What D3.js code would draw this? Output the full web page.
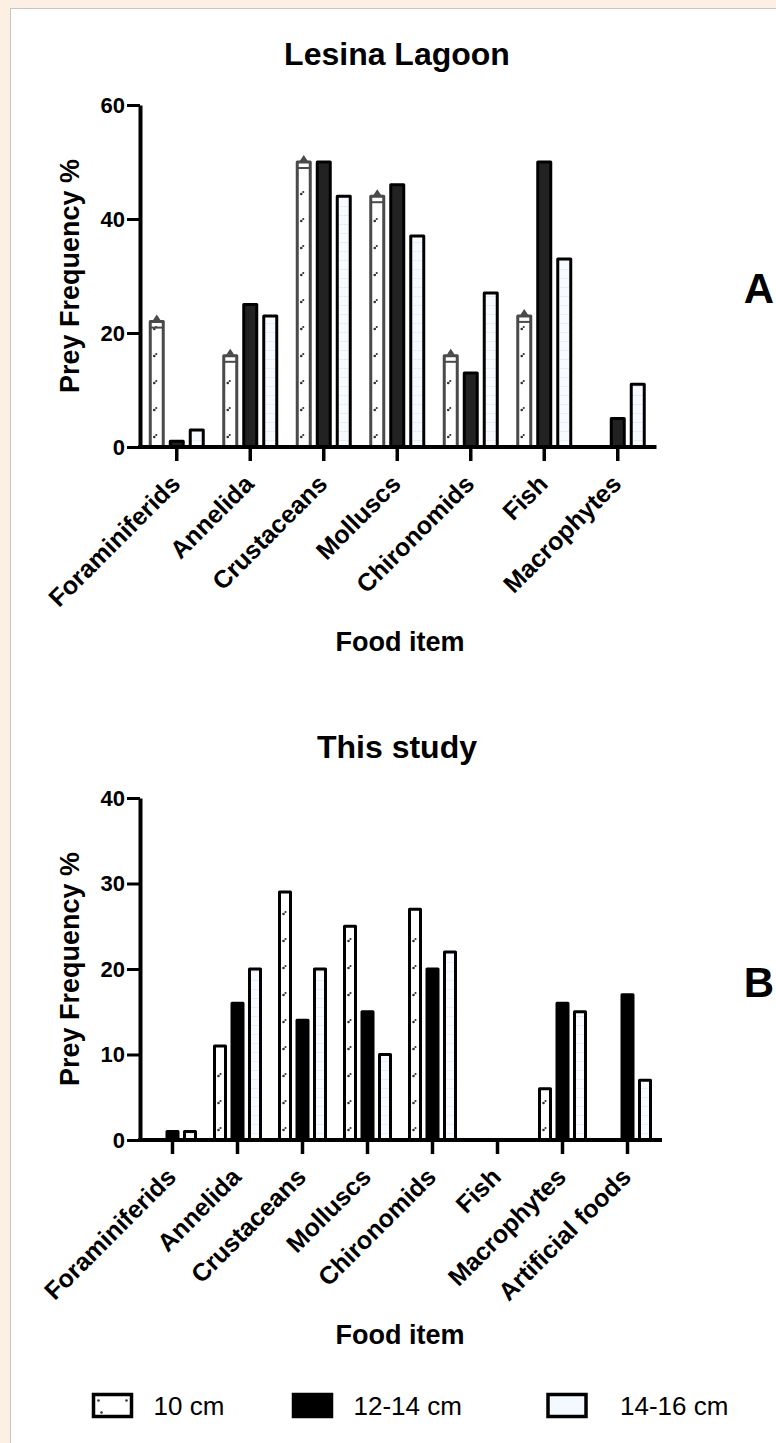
<!DOCTYPE html>
<html>
<head>
<meta charset="utf-8">
<script src="https://cdn.jsdelivr.net/npm/d3@7"></script>
<style>
  body { margin: 0; background: #fcefe3; }
  svg { display: block; font-family: "Liberation Sans", Arial, sans-serif; }
</style>
</head>
<body>
<svg width="776" height="1443"></svg>
<script>
var seriesNames = ["10 cm", "12-14 cm", "14-16 cm"];

var lagoonCats = ["Foraminiferids", "Annelida", "Crustaceans", "Molluscs", "Chironomids", "Fish", "Macrophytes"];
var lagoon10 = [22, 16, 50, 44, 16, 23, 0];
var lagoon12 = [1, 25, 50, 46, 13, 50, 5];
var lagoon14 = [3, 23, 44, 37, 27, 33, 11];
var lagoonTicks = [0, 20, 40, 60];

var studyCats = ["Foraminiferids", "Annelida", "Crustaceans", "Molluscs", "Chironomids", "Fish", "Macrophytes", "Artificial foods"];
var study10 = [0, 11, 29, 25, 27, 0, 6, 0];
var study12 = [1, 16, 14, 15, 20, 0, 16, 17];
var study14 = [1, 20, 20, 10, 22, 0, 15, 7];
var studyTicks = [0, 10, 20, 30, 40];

var svg = d3.select("svg");

// white page panel
svg.append("rect")
    .attr("x", 10.5).attr("y", 8.5)
    .attr("width", 800).attr("height", 1500)
    .attr("fill", "#fff").attr("stroke", "#c8c4c0");

var defs = svg.append("defs");
var lines = defs.append("pattern")
    .attr("id", "light")
    .attr("patternUnits", "userSpaceOnUse")
    .attr("width", 6).attr("height", 9);
lines.append("rect").attr("width", 6).attr("height", 9).attr("fill", "#f7faff");
lines.append("rect").attr("y", 8).attr("width", 6).attr("height", 1).attr("fill", "#e8eef8");

function panel(o) {
  var g = svg.append("g");

  var x = d3.scaleBand().domain(o.cats).range([o.left, o.right]).padding(0);
  var x1 = d3.scaleBand().domain(seriesNames).range([-o.groupW / 2, o.groupW / 2]).paddingInner(0.2);
  var y = d3.scaleLinear().domain([0, o.yMax]).range([o.bottom, o.top]);

  var rows = [];
  o.cats.forEach(function(c, i) {
    o.series.forEach(function(s, j) {
      rows.push({cat: c, name: seriesNames[j], value: s[i], k: j});
    });
  });
  rows = rows.filter(function(d) { return d.value > 0; });

  var bw = x1.bandwidth() - 3;
  function bx(d) { return x(d.cat) + x.bandwidth() / 2 + x1(d.name) + 1.5; }

  var bars = g.selectAll(".bar").data(rows).enter();

  bars.append("rect")
      .attr("class", "bar")
      .attr("x", bx)
      .attr("y", function(d) { return y(d.value); })
      .attr("width", bw)
      .attr("height", function(d) { return o.bottom - y(d.value); })
      .attr("fill", function(d) { return d.k == 0 ? "#fff" : d.k == 1 ? o.darkFill : "url(#light)"; })
      .attr("stroke", function(d) { return d.k == 0 ? o.firstStroke : "#000"; })
      .attr("stroke-width", 3)
      .attr("stroke-linejoin", "round");

  // dotted fill of the 10 cm bars
  rows.filter(function(d) { return d.k == 0; }).forEach(function(d) {
    var top = y(d.value);
    d3.range(o.bottom - 10, top + 6, -o.dotGap).forEach(function(yy) {
      g.append("circle").attr("cx", bx(d) + 4).attr("cy", yy).attr("r", 1.3).attr("fill", "#333");
      g.append("circle").attr("cx", bx(d) + 6).attr("cy", yy - 2).attr("r", 1.1).attr("fill", "#333");
    });
    if (o.caps) {
      var cx = bx(d) + bw / 2;
      g.append("path")
          .attr("d", "M" + (cx - 4) + "," + (top - 1) + "L" + cx + "," + (top - 7) + "L" + (cx + 4) + "," + (top - 1) + "Z")
          .attr("fill", o.firstStroke);
      g.append("line")
          .attr("x1", bx(d)).attr("x2", bx(d) + bw)
          .attr("y1", top + 6).attr("y2", top + 6)
          .attr("stroke", o.firstStroke).attr("stroke-width", 2);
    }
  });

  // y axis
  var ya = g.append("g")
      .attr("transform", "translate(" + o.left + ",0)")
      .call(d3.axisLeft(y).tickValues(o.ticks).tickSize(13).tickSizeOuter(0).tickPadding(2));
  ya.select(".domain").attr("stroke-width", 4);
  ya.selectAll(".tick line").attr("stroke-width", 3);
  ya.selectAll(".tick text")
      .attr("font-size", 22).attr("font-weight", "bold").attr("fill", "#000")
      .attr("font-family", "Liberation Sans, Arial, sans-serif");

  // x axis
  var xa = g.append("g")
      .attr("transform", "translate(0," + o.bottom + ")")
      .call(d3.axisBottom(x).tickSize(14).tickSizeOuter(0));
  xa.select(".domain").attr("stroke-width", 4).attr("d", "M" + (o.left - 2) + ",0H" + (o.right + 2));
  xa.selectAll(".tick line").attr("stroke-width", 3.5);
  xa.selectAll(".tick text")
      .attr("font-size", 25).attr("font-weight", "bold").attr("fill", "#000")
      .attr("font-family", "Liberation Sans, Arial, sans-serif")
      .attr("text-anchor", "end")
      .attr("dy", null)
      .attr("transform", "translate(5,38.5) rotate(-45)")
      .attr("y", 0).attr("x", 0);

  g.append("text")
      .attr("x", 397).attr("y", o.titleY)
      .attr("text-anchor", "middle")
      .attr("font-size", 32).attr("font-weight", "bold")
      .text(o.title);

  g.append("text")
      .attr("transform", "translate(" + (o.left - 61) + "," + ((o.top + o.bottom) / 2) + ") rotate(-90)")
      .attr("text-anchor", "middle")
      .attr("font-size", 27).attr("font-weight", "bold")
      .text("Prey Frequency %");

  g.append("text")
      .attr("x", 400).attr("y", o.bottom + 204)
      .attr("text-anchor", "middle")
      .attr("font-size", 27).attr("font-weight", "bold")
      .text("Food item");

  g.append("text")
      .attr("x", 759).attr("y", o.letterY)
      .attr("text-anchor", "middle")
      .attr("font-size", 42).attr("font-weight", "bold")
      .text(o.letter);
}

panel({
  cats: lagoonCats, series: [lagoon10, lagoon12, lagoon14], yMax: 60, ticks: lagoonTicks,
  left: 140, right: 654.5, top: 105, bottom: 447, groupW: 56,
  darkFill: "#222", firstStroke: "#4a4a4a", caps: true, dotGap: 27,
  title: "Lesina Lagoon", titleY: 65, letter: "A", letterY: 303
});

panel({
  cats: studyCats, series: [study10, study12, study14], yMax: 40, ticks: studyTicks,
  left: 140, right: 660, top: 798, bottom: 1140, groupW: 49,
  darkFill: "#000", firstStroke: "#000", caps: false, dotGap: 27,
  title: "This study", titleY: 758, letter: "B", letterY: 997
});

// legend
var lg = svg.append("g");
var lx = d3.scaleOrdinal().domain(seriesNames).range([93.5, 293.5, 548]);
seriesNames.forEach(function(s, i) {
  lg.append("rect")
      .attr("x", lx(s)).attr("y", 1394.5)
      .attr("width", 38).attr("height", 22)
      .attr("fill", i == 0 ? "#fff" : i == 1 ? "#000" : "#f4f8ff")
      .attr("stroke", "#000").attr("stroke-width", 3.5);
  if (i == 0) {
    [[5, 6], [33, 6], [8, 18]].forEach(function(p) {
      lg.append("circle").attr("cx", lx(s) + p[0]).attr("cy", 1394.5 + p[1]).attr("r", 1.3).attr("fill", "#333");
    });
  }
  lg.append("text")
      .attr("x", lx(s) + (i == 2 ? 72 : 60)).attr("y", 1415)
      .attr("font-size", 26)
      .text(s);
});
</script>
</body>
</html>
